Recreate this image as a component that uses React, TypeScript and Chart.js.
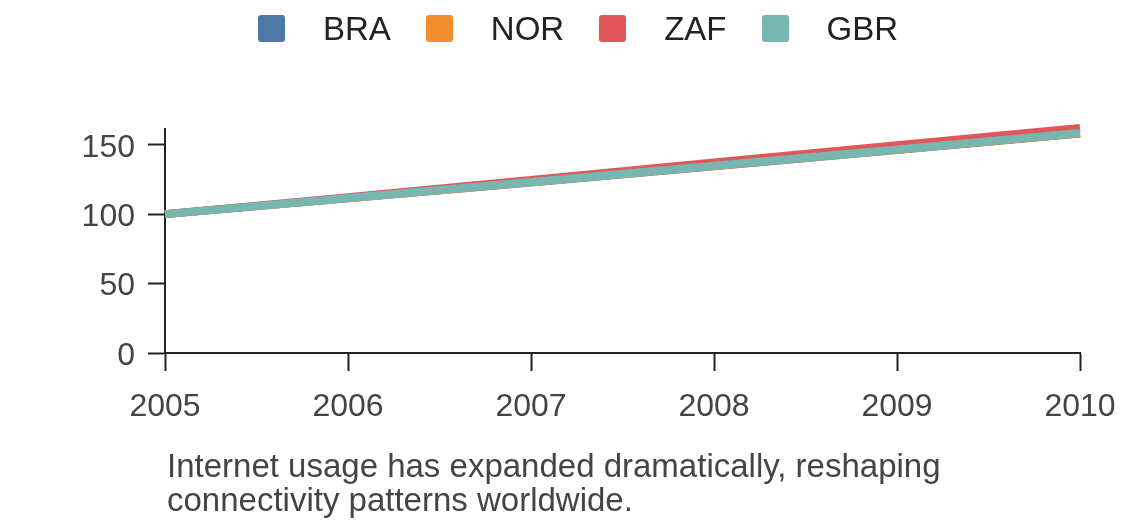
import { useEffect, useRef } from "react";
import Chart from "chart.js/auto";

const years = ["2005", "2006", "2007", "2008", "2009", "2010"];
const seriesNames = ["BRA", "NOR", "ZAF", "GBR"];
const seriesColors = ["#4e79a7", "#f28e2b", "#e15759", "#76b7b2"];
const braValues = [100, 111.4, 122.8, 134.4, 146.1, 158.0];
const norValues = [100, 111.5, 123.0, 134.6, 146.3, 158.2];
const zafValues = [100, 112.2, 124.6, 137.1, 149.6, 162.0];
const gbrValues = [100, 111.6, 123.2, 134.8, 146.6, 158.5];
const yTicks = [0, 50, 100, 150];
const yMax = 161.3;
const caption = [
    "Internet usage has expanded dramatically, reshaping",
    "connectivity patterns worldwide.",
];

const FONT = "'Liberation Sans', Arial, Helvetica, sans-serif";

const App = () => {
    const canvasRef = useRef<HTMLCanvasElement>(null);

    useEffect(() => {
        document.body.style.margin = "0";
        if (!canvasRef.current) return;
        const values = [braValues, norValues, zafValues, gbrValues];
        const chart = new Chart(canvasRef.current, {
            type: "line",
            data: {
                labels: years,
                datasets: seriesNames.map((name, i) => ({
                    label: name,
                    data: values[i],
                    borderColor: seriesColors[i],
                    backgroundColor: seriesColors[i],
                    borderWidth: 8,
                    pointRadius: 0,
                    tension: 0,
                    clip: false,
                    // later series are painted on top, like the reference
                    order: seriesNames.length - i,
                })),
            },
            options: {
                animation: false,
                responsive: false,
                devicePixelRatio: 1,
                layout: { padding: { left: 0, right: 60, top: 129, bottom: 0 } },
                plugins: {
                    legend: { display: false },
                    tooltip: { enabled: false },
                },
                scales: {
                    x: {
                        type: "category",
                        offset: false,
                        border: { color: "#222", width: 2 },
                        grid: {
                            drawOnChartArea: false,
                            drawTicks: true,
                            tickLength: 18,
                            tickColor: "#222",
                            tickWidth: 2,
                        },
                        ticks: {
                            color: "#444",
                            font: { family: FONT, size: 32 },
                            padding: 17,
                            maxRotation: 0,
                            autoSkip: false,
                        },
                        afterFit: (axis: any) => {
                            axis.height = 175;
                        },
                    },
                    y: {
                        min: 0,
                        max: yMax,
                        afterBuildTicks: (axis: any) => {
                            axis.ticks = yTicks.map((v) => ({ value: v }));
                        },
                        border: { color: "#222", width: 2 },
                        grid: {
                            drawOnChartArea: false,
                            drawTicks: true,
                            tickLength: 17,
                            tickColor: "#222",
                            tickWidth: 2,
                        },
                        ticks: {
                            color: "#444",
                            font: { family: FONT, size: 32 },
                            padding: 13,
                            labelOffset: 3,
                        },
                        afterFit: (axis: any) => {
                            axis.width = 165;
                        },
                    },
                },
            },
        });
        return () => {
            chart.destroy();
        };
    }, []);

    return (
        <div style={{ position: "fixed", left: 0, top: 0, width: 1140, height: 528, fontFamily: FONT }}>
            <canvas ref={canvasRef} width={1140} height={528} style={{ position: "absolute", left: 0, top: 0 }}></canvas>
            <div
                style={{
                    position: "absolute",
                    top: 12,
                    left: 0,
                    width: 1156,
                    display: "flex",
                    justifyContent: "center",
                    gap: 35,
                }}
            >
                {seriesNames.map((name, i) => (
                    <div key={name} style={{ display: "flex", alignItems: "center" }}>
                        <span
                            style={{
                                display: "inline-block",
                                width: 27,
                                height: 27,
                                borderRadius: 3,
                                background: seriesColors[i],
                                marginRight: 38,
                            }}
                        ></span>
                        <span style={{ fontSize: 33, color: "#222", lineHeight: "33px" }}>{name}</span>
                    </div>
                ))}
            </div>
            <div
                style={{
                    position: "absolute",
                    left: 167,
                    top: 449,
                    fontSize: 33,
                    lineHeight: "34px",
                    color: "#444",
                }}
            >
                {caption.map((line) => (
                    <div key={line}>{line}</div>
                ))}
            </div>
        </div>
    );
};

export default App;
